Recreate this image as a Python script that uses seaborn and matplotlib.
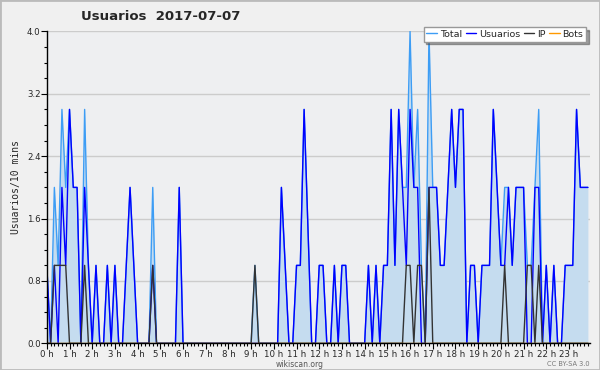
import numpy as np
import pandas as pd
import matplotlib
matplotlib.use("Agg")
import matplotlib.pyplot as plt
import seaborn as sns
from matplotlib.ticker import MultipleLocator

# values per 10 minutes (144 slots, 0:00 .. 23:50)
usuarios = [1, 0, 1, 0, 2, 1, 3, 2, 2, 0, 2, 1, 0, 1, 0, 0, 1, 0, 1, 0,
            0, 1, 2, 1, 0, 0, 0, 0, 1, 0, 0, 0, 0, 0, 0, 2, 0, 0, 0, 0,
            0, 0, 0, 0, 0, 0, 0, 0, 0, 0, 0, 0, 0, 0, 0, 0, 0, 0, 0, 0,
            0, 0, 2, 1, 0, 0, 1, 1, 3, 1.5, 0, 0, 1, 1, 0, 0, 1, 0, 1, 1,
            0, 0, 0, 0, 0, 1, 0, 1, 0, 1, 1, 3, 1, 3, 2, 1, 3, 2, 2, 0,
            0, 2, 2, 2, 1, 1, 2, 3, 2, 3, 3, 0, 1, 1, 0, 1, 1, 1, 3, 2,
            1, 1, 2, 1, 2, 2, 2, 0, 0, 2, 2, 0, 1, 0, 1, 0, 0, 1, 1, 1,
            3, 2, 2, 2]
ip = [0, 0, 1, 1, 1, 1, 0, 0, 0, 0, 1, 0, 0, 0, 0, 0, 0, 0, 0, 0,
      0, 0, 0, 0, 0, 0, 0, 0, 1, 0, 0, 0, 0, 0, 0, 0, 0, 0, 0, 0,
      0, 0, 0, 0, 0, 0, 0, 0, 0, 0, 0, 0, 0, 0, 0, 1, 0, 0, 0, 0,
      0, 0, 0, 0, 0, 0, 0, 0, 0, 0, 0, 0, 0, 0, 0, 0, 0, 0, 0, 0,
      0, 0, 0, 0, 0, 0, 0, 0, 0, 0, 0, 0, 0, 0, 0, 1, 1, 0, 1, 1,
      0, 2, 0, 0, 0, 0, 0, 0, 0, 0, 0, 0, 0, 0, 0, 0, 0, 0, 0, 0,
      0, 1, 0, 0, 0, 0, 0, 1, 1, 0, 1, 0, 0, 0, 0, 0, 0, 0, 0, 0,
      0, 0, 0, 0]
bots = [0] * 144
hour_labels = [f"{h} h" for h in range(24)]

df = pd.DataFrame({"slot": range(144), "Usuarios": usuarios, "IP": ip, "Bots": bots})
df["Total"] = df["Usuarios"] + df["IP"] + df["Bots"]

sns.set_style("white")
plt.rcParams["font.family"] = ["DejaVu Sans"]

fig = plt.figure(figsize=(6, 3.7), dpi=100, facecolor="#f0f0f0")
ax = fig.add_axes([0.078, 0.072, 0.905, 0.843])
ax.set_facecolor("#eeeff1")

# area under the total, then the four lines
ax.fill_between(df["slot"], df["Total"], color="#c5dcef", lw=0)
sns.lineplot(data=df, x="slot", y="Total", color="#3d9df5", lw=1, ax=ax, label="Total")
sns.lineplot(data=df, x="slot", y="Usuarios", color="#0000ff", lw=1, ax=ax, label="Usuarios")
sns.lineplot(data=df, x="slot", y="IP", color="#333333", lw=1, ax=ax, label="IP")
sns.lineplot(data=df, x="slot", y="Bots", color="#ff9900", lw=1, ax=ax, label="Bots")
ax.get_legend().remove()

ax.set_xlim(0, 143.5)
ax.set_ylim(0, 4.0)
ax.set_yticks(np.arange(0, 4.01, 0.8))
ax.set_yticklabels([f"{v:.1f}" for v in np.arange(0, 4.01, 0.8)], fontsize=6.2)
ax.yaxis.set_minor_locator(MultipleLocator(0.2))
ax.set_xticks(range(0, 144, 6))
ax.set_xticklabels(hour_labels, fontsize=6.2)
ax.xaxis.set_minor_locator(MultipleLocator(1))
ax.tick_params(axis="both", which="major", length=4, width=0.8, color="black", pad=0.5)
ax.tick_params(axis="both", which="minor", length=2.5, width=0.8, color="black")
ax.tick_params(axis="x", which="both", bottom=True)
ax.tick_params(axis="y", which="both", left=True)
ax.grid(axis="y", color="#cccccc", lw=1)
ax.set_axisbelow(True)
for side in ["top", "right"]:
    ax.spines[side].set_visible(False)
for side in ["left", "bottom"]:
    ax.spines[side].set_color("black")
    ax.spines[side].set_linewidth(1)

ax.set_xlabel("")
ax.set_ylabel("Usuarios/10 mins", fontsize=7, family="DejaVu Sans Mono", labelpad=4)

fig.text(0.135, 0.955, "Usuarios  2017-07-07", fontsize=9.5, fontweight="bold", ha="left", va="center")
fig.text(0.5, 0.015, "wikiscan.org", fontsize=5.5, color="#555555", ha="center", va="center")
fig.text(0.982, 0.015, "CC BY-SA 3.0", fontsize=4.8, color="#777777", ha="right", va="center")

handles, labels = ax.get_legend_handles_labels()
leg = fig.legend(handles, labels, ncol=4, loc="upper right", bbox_to_anchor=(0.985, 0.94),
                 fontsize=6.8, frameon=True, shadow=True, fancybox=False, handlelength=1.1,
                 handletextpad=0.3, columnspacing=0.4, borderpad=0.3, edgecolor="#999999")
leg.get_frame().set_linewidth(1)

fig.patches.append(plt.Rectangle((0, 0), 1, 1, transform=fig.transFigure, fill=False,
                                 edgecolor="#bbbbbb", lw=2))

fig.savefig("out.png", dpi=100, facecolor=fig.get_facecolor())
